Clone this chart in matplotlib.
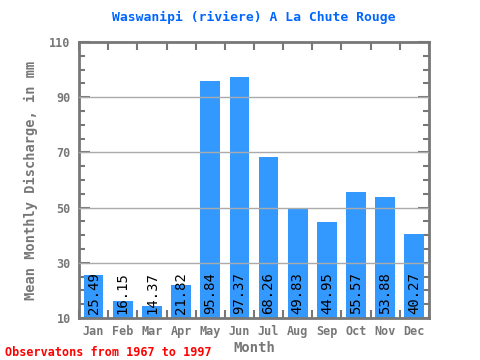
import matplotlib
matplotlib.use("Agg")
from matplotlib import pyplot as plt
import numpy as np

months = ["Jan", "Feb", "Mar", "Apr", "May", "Jun", "Jul", "Aug", "Sep", "Oct", "Nov", "Dec"]
discharge = [25.49, 16.15, 14.37, 21.82, 95.84, 97.37, 68.26, 49.83, 44.95, 55.57, 53.88, 40.27]
y_ticks = [10, 30, 50, 70, 90, 110]

grey = "#777777"
mono = "DejaVu Sans Mono"

fig = plt.figure(figsize=(4.8, 3.6), dpi=100)
ax = fig.add_axes([79 / 480, 1 - 318 / 360, 350 / 480, 276 / 360])

x = np.arange(len(months))
ax.bar(x, discharge, width=0.68, color="#3399ff", zorder=2)
ax.set_xlim(-0.5, len(months) - 0.5)
ax.set_ylim(10, 110)

for i, v in enumerate(discharge):
    ax.text(i, 11.6, f"{v:.2f}", rotation=90, ha="center", va="bottom",
            fontsize=10, family=mono, color="black", zorder=4)

# grid over bars
for g in y_ticks[1:-1]:
    ax.axhline(g, color="#aaaaaa", linewidth=1, zorder=3)

ax.set_yticks(y_ticks)
ax.set_yticklabels([str(t) for t in y_ticks], family=mono, fontweight="bold", fontsize=8.5, color=grey)
ax.set_yticks(np.arange(10, 111, 5), minor=True)
ax.tick_params(axis="y", which="major", direction="in", length=8, width=1.5, color=grey,
               left=True, right=True, pad=6)
ax.tick_params(axis="y", which="minor", direction="in", length=4, width=1.5, color=grey,
               left=True, right=True)

ax.set_xticks(x)
ax.set_xticklabels(months, family=mono, fontweight="bold", fontsize=8.5, color=grey)
ax.tick_params(axis="x", which="major", length=0, pad=5)
ax.set_xticks(np.arange(-0.5, len(months), 1), minor=True)
ax.tick_params(axis="x", which="minor", direction="in", length=6, width=1.5, color=grey,
               top=True, bottom=True)

for s in ax.spines.values():
    s.set_color(grey)
    s.set_linewidth(2)

ax.set_title("Waswanipi (riviere) A La Chute Rouge", family=mono, fontweight="bold",
             fontsize=9.4, color="#0066ff", pad=15)
ax.set_xlabel("Month", family=mono, fontweight="bold", fontsize=10, color=grey, labelpad=2)
ax.set_ylabel("Mean Monthly Discharge, in mm", family=mono, fontweight="bold", fontsize=9.8,
              color=grey, labelpad=8)

fig.text(5 / 480, 1 - 352 / 360, "Observatons from 1967 to 1997", family=mono,
         fontweight="bold", fontsize=8.5, color="red", va="center")

fig.savefig("out.png", dpi=100)
